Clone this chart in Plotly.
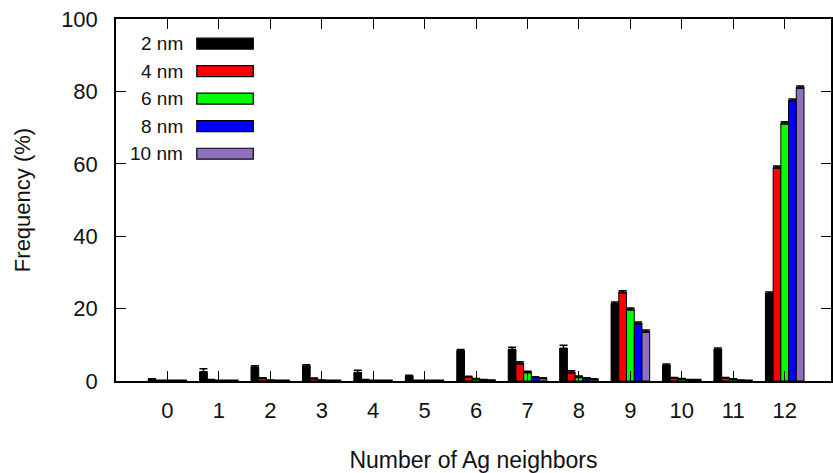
import plotly.graph_objects as go

categories = list(range(13))
tick_labels = [str(c) for c in categories]
series_names = ["2 nm", "4 nm", "6 nm", "8 nm", "10 nm"]
colors = ["#000000", "#ff0000", "#00ff00", "#0000ff", "#8f6fbf"]

v2 = [0.4, 2.6, 3.9, 4.2, 2.4, 1.4, 8.4, 8.8, 9.1, 21.5, 4.4, 8.8, 24.3]
v4 = [0.1, 0.3, 0.8, 0.7, 0.3, 0.1, 1.2, 5.0, 2.5, 24.6, 0.9, 0.9, 59.1]
v6 = [0.1, 0.1, 0.2, 0.2, 0.1, 0.1, 0.6, 2.5, 1.2, 19.9, 0.6, 0.5, 71.3]
v8 = [0.1, 0.1, 0.1, 0.1, 0.1, 0.1, 0.3, 1.1, 0.8, 16.0, 0.3, 0.2, 77.6]
v10 = [0.1, 0.1, 0.1, 0.1, 0.1, 0.1, 0.2, 0.8, 0.5, 13.8, 0.3, 0.1, 81.2]

e2 = [0.2, 0.8, 0.3, 0.3, 0.6, 0.2, 0.3, 0.5, 0.8, 0.3, 0.3, 0.3, 0.3]
e4 = [0.1, 0.1, 0.1, 0.1, 0.1, 0.1, 0.1, 0.3, 0.3, 0.3, 0.1, 0.1, 0.3]
e6 = [0.1, 0.1, 0.1, 0.1, 0.1, 0.1, 0.1, 0.2, 0.2, 0.3, 0.1, 0.1, 0.3]
e8 = [0.1, 0.1, 0.1, 0.1, 0.1, 0.1, 0.1, 0.1, 0.1, 0.3, 0.1, 0.1, 0.3]
e10 = [0.1, 0.1, 0.1, 0.1, 0.1, 0.1, 0.1, 0.1, 0.1, 0.3, 0.1, 0.1, 0.3]

values = [v2, v4, v6, v8, v10]
errors = [e2, e4, e6, e8, e10]

FONT = "Liberation Sans, Arial, sans-serif"

fig = go.Figure()
for name, col, vals, errs in zip(series_names, colors, values, errors):
    fig.add_trace(go.Bar(
        x=categories, y=vals, name=name,
        marker=dict(color=col, line=dict(color="black", width=1)),
        error_y=dict(type="data", array=errs, visible=True,
                     color="black", thickness=1.5, width=4),
        showlegend=False,
    ))

# manual legend: text on the left, box on the right (gnuplot style)
row_y0 = 0.932
row_dy = 0.076
for i, (name, col) in enumerate(zip(series_names, colors)):
    yc = row_y0 - i * row_dy
    fig.add_annotation(x=0.096, y=yc, xref="paper", yref="paper",
                       text=name, showarrow=False, xanchor="right",
                       yanchor="middle",
                       font=dict(family=FONT, size=19, color="#111"))
    fig.add_shape(type="rect", xref="paper", yref="paper",
                  x0=0.113, x1=0.192, y0=yc - 0.015, y1=yc + 0.015,
                  fillcolor=col, line=dict(color="black", width=1.2))

fig.update_layout(
    width=833, height=473,
    margin=dict(l=116, r=0, t=19, b=92),
    plot_bgcolor="white", paper_bgcolor="white",
    barmode="group", bargap=0.25, bargroupgap=0,
    font=dict(family=FONT, size=22, color="#111"),
    xaxis=dict(
        range=[-1, 12.9], tickmode="array", tickvals=categories,
        ticktext=tick_labels, ticks="inside", ticklen=10, tickwidth=1.2,
        tickcolor="black", showline=True, linecolor="black", linewidth=1.5,
        mirror="allticks", showgrid=False, zeroline=False,
        ticklabelstandoff=9,
        title=dict(text="Number of Ag neighbors", standoff=31,
                   font=dict(family=FONT, size=23)),
    ),
    yaxis=dict(
        range=[0, 100], tickvals=[0, 20, 40, 60, 80, 100],
        ticks="inside", ticklen=10, tickwidth=1.2, tickcolor="black",
        showline=True, linecolor="black", linewidth=1.5,
        mirror="allticks", showgrid=False, zeroline=False,
        ticklabelstandoff=12,
        title=dict(text="Frequency (%)", standoff=24,
                   font=dict(family=FONT, size=22)),
    ),
)

fig.write_html("out.html")
